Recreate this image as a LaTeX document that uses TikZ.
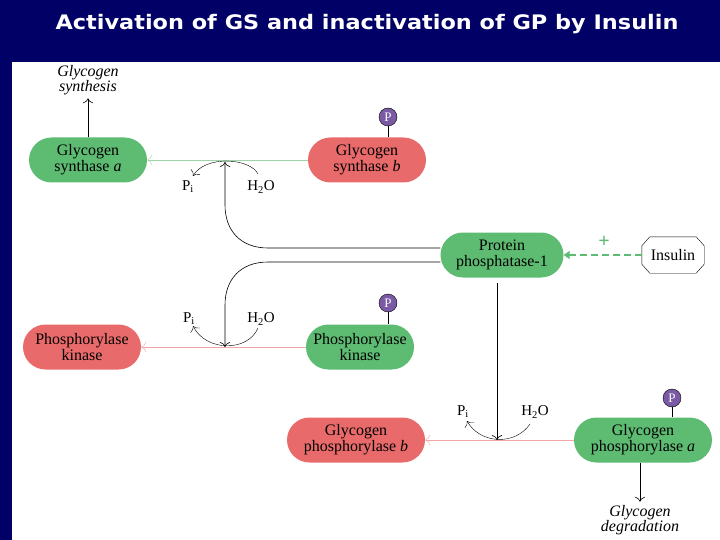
\documentclass[tikz,border=0pt]{standalone}
\usepackage{fontspec}
\setmainfont{Liberation Serif}
\newfontfamily\titlefont{DejaVu Sans}
\usetikzlibrary{shapes.geometric,shapes.misc,arrows.meta}
\definecolor{navy}{HTML}{000066}
\definecolor{gr}{HTML}{5DBB72}
\definecolor{rd}{HTML}{E96A6A}
\definecolor{pu}{HTML}{7A5AA5}
\begin{document}
\begin{tikzpicture}[x=1pt,y=-1pt,
  enz/.style={rounded rectangle,minimum height=45pt,align=center,font=\fontsize{16}{16}\selectfont,inner xsep=6pt},
  gbox/.style={enz,fill=gr},
  rbox/.style={enz,fill=rd},
  pcirc/.style={circle,fill=pu,draw=black,line width=0.4pt,inner sep=0pt,minimum size=18pt,text=white,font=\fontsize{13}{13}\selectfont},
  lbl/.style={font=\fontsize{15}{15}\selectfont},
  it/.style={font=\fontsize{16}{15}\selectfont\itshape,align=center},
  arr/.style={-{To[length=5pt]},line width=0.6pt},
  conv/.style={-{To[length=5pt]},line width=0.4pt}]
\fill[navy] (0,0) rectangle (720,540);
\fill[white] (12,62) rectangle (720,540);
\node[text=white,font=\titlefont\bfseries\fontsize{20}{20}\selectfont,xscale=1.12] (title) at (367,24) {Activation of GS and inactivation of GP by Insulin};
% nodes
\node[gbox,minimum width=130pt] (gsa) at (88,160) {Glycogen\\synthase \textit{a}};
\node[rbox,minimum width=130pt] (gsb) at (367,160) {Glycogen\\synthase \textit{b}};
\node[pcirc] (p1) at (388,117) {P};
\draw (p1) -- (gsb.north -| p1);
\node[it] (syn) at (88,80) {Glycogen\\synthesis};
\draw[arr] (gsa.north) -- (syn.south);
\node[gbox,minimum width=135pt] (pp1) at (502,255) {Protein\\phosphatase-1};
\node[font=\fontsize{16}{16}\selectfont,minimum width=62pt,minimum height=36pt] (ins) at (673,255) {Insulin};
\draw ([xshift=8pt]ins.north west) -- ([xshift=-8pt]ins.north east) -- ([yshift=-9pt]ins.north east) -- ([yshift=9pt]ins.south east) -- ([xshift=-8pt]ins.south east) -- ([xshift=8pt]ins.south west) -- ([yshift=9pt]ins.south west) -- ([yshift=-9pt]ins.north west) -- cycle;
\draw[gr,line width=2.2pt,dash pattern=on 7pt off 4pt,-{Triangle[length=6pt,width=8pt]}] (ins.west) -- (pp1.east);
\node[text=gr,font=\bfseries\fontsize{20}{20}\selectfont] (plus) at (604,242) {+};
\node[rbox,minimum width=130pt] (pka) at (82,347) {Phosphorylase\\kinase};
\node[gbox,minimum width=120pt] (pkb) at (360,347) {Phosphorylase\\kinase};
\node[pcirc] (p2) at (388,303) {P};
\draw (p2) -- (pkb.north -| p2);
\node[rbox,minimum width=150pt] (gpb) at (356,440) {Glycogen\\phosphorylase \textit{b}};
\node[gbox,minimum width=150pt] (gpa) at (643,440) {Glycogen\\phosphorylase \textit{a}};
\node[pcirc] (p3) at (672,398) {P};
\draw (p3) -- (gpa.north -| p3);
\node[it] (deg) at (640,520) {Glycogen\\degradation};
\draw[arr] (gpa.south -| deg) -- (deg.north);
% conversion arrows
\draw[conv,gr!60] (gsb.west) -- (gsa.east);
\draw[conv,rd!60] (pkb.west) -- (pka.east);
\draw[conv,rd!60] (gpa.west) -- (gpb.east);
% small labels
\node[lbl] (pi1) at (188,187) {P\textsubscript{i}};
\node[lbl] (w1) at (261,187) {H\textsubscript{2}O};
\node[lbl] (pi2) at (189,319) {P\textsubscript{i}};
\node[lbl] (w2) at (261,319) {H\textsubscript{2}O};
\node[lbl] (pi3) at (463,412) {P\textsubscript{i}};
\node[lbl] (w3) at (535,412) {H\textsubscript{2}O};
% arcs
\coordinate (t1) at (225,162);
\draw[conv] (258,174) .. controls (250,158) and (205,155) .. (193,176);
\coordinate (t2) at (225,347);
\draw[conv] (258,328) .. controls (248,352) and (206,352) .. (193,326);
\coordinate (t3) at (497,440);
\draw[conv] (530,424) .. controls (515,446) and (480,444) .. (467,421);
% PP1 connectors
\coordinate (h1) at (pp1.west |- 0,248);
\draw[arr] (h1) -- (268,248) .. controls (240,248) and (225,230) .. (225,205) -- (t1);
\coordinate (h2) at (pp1.west |- 0,262);
\draw[arr] (h2) -- (268,262) .. controls (240,262) and (225,280) .. (225,305) -- (t2);
\coordinate (v3) at (497,283);
\draw[arr] (v3) -- (t3);
\end{tikzpicture}
\end{document}
